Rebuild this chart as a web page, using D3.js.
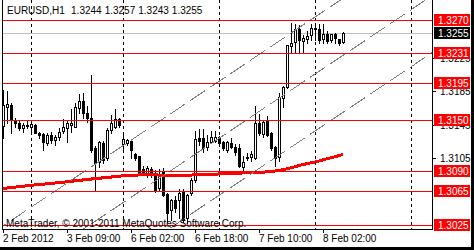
<!DOCTYPE html>
<html>
<head>
<meta charset="utf-8">
<script src="https://cdn.jsdelivr.net/npm/d3@7"></script>
<style>
	body { margin: 0; background: #fff; }
	svg { display: block; font-family: "Liberation Sans", Arial, sans-serif; font-size: 10px; }
</style>
</head>
<body>
<div id="chart"></div>
<script>

// EURUSD H1 bars, 2 Feb 2012 17:00 .. 8 Feb 2012 07:00 (bar index 0..85)
var opens = [1.3143,1.3166,1.3168,1.3150,1.3147,1.3141,1.3145,1.3142,1.3145,1.3135,
	1.3134,1.3123,1.3133,1.3127,1.3130,1.3137,1.3141,1.3145,1.3142,1.3165,
	1.3173,1.3159,1.3153,1.3117,1.3100,1.3123,1.3105,1.3139,1.3142,1.3152,
	1.3122,1.3123,1.3125,1.3110,1.3107,1.3092,1.3087,1.3092,1.3087,1.3069,
	1.3089,1.3062,1.3043,1.3055,1.3055,1.3064,1.3033,1.3063,1.3079,1.3129,
	1.3129,1.3118,1.3124,1.3125,1.3130,1.3124,1.3115,1.3123,1.3118,1.3117,
	1.3094,1.3105,1.3106,1.3105,1.3147,1.3134,1.3150,1.3135,1.3118,1.3106,
	1.3177,1.3190,1.3239,1.3244,1.3259,1.3245,1.3247,1.3252,1.3261,1.3259,
	1.3247,1.3253,1.3246,1.3253,1.3247,1.3244];
var highs = [1.3188,1.3186,1.3172,1.3154,1.3150,1.3148,1.3150,1.3150,1.3147,1.3137,
	1.3136,1.3136,1.3137,1.3134,1.3142,1.3153,1.3150,1.3165,1.3172,1.3183,
	1.3184,1.3168,1.3206,1.3121,1.3127,1.3127,1.3142,1.3158,1.3165,1.3154,
	1.3135,1.3129,1.3129,1.3112,1.3109,1.3097,1.3097,1.3095,1.3092,1.3093,
	1.3094,1.3064,1.3057,1.3061,1.3069,1.3069,1.3063,1.3082,1.3139,1.3141,
	1.3141,1.3134,1.3139,1.3139,1.3133,1.3127,1.3127,1.3130,1.3123,1.3123,
	1.3109,1.3112,1.3115,1.3168,1.3159,1.3150,1.3156,1.3137,1.3121,1.3184,
	1.3192,1.3242,1.3268,1.3267,1.3265,1.3253,1.3258,1.3267,1.3268,1.3267,
	1.3267,1.3258,1.3255,1.3256,1.3249,1.3257];
var lows = [1.3129,1.3147,1.3135,1.3142,1.3139,1.3136,1.3141,1.3136,1.3135,1.3129,
	1.3115,1.3121,1.3123,1.3121,1.3127,1.3135,1.3124,1.3136,1.3142,1.3159,
	1.3153,1.3148,1.3112,1.3065,1.3094,1.3099,1.3103,1.3135,1.3141,1.3142,
	1.3112,1.3121,1.3105,1.3103,1.3085,1.3085,1.3082,1.3082,1.3064,1.3067,
	1.3059,1.3028,1.3031,1.3040,1.3033,1.3028,1.3027,1.3061,1.3076,1.3121,
	1.3112,1.3115,1.3123,1.3124,1.3121,1.3115,1.3112,1.3117,1.3109,1.3094,
	1.3091,1.3103,1.3101,1.3104,1.3133,1.3130,1.3131,1.3115,1.3095,1.3101,
	1.3166,1.3189,1.3232,1.3232,1.3232,1.3232,1.3243,1.3246,1.3246,1.3243,
	1.3243,1.3243,1.3244,1.3243,1.3240,1.3243];
var closes = [1.3168,1.3170,1.3150,1.3147,1.3141,1.3145,1.3143,1.3146,1.3135,1.3133,
	1.3124,1.3133,1.3127,1.3130,1.3136,1.3142,1.3147,1.3147,1.3166,1.3173,
	1.3159,1.3153,1.3115,1.3099,1.3124,1.3103,1.3139,1.3147,1.3152,1.3145,
	1.3128,1.3127,1.3115,1.3105,1.3087,1.3088,1.3093,1.3085,1.3065,1.3085,
	1.3061,1.3039,1.3055,1.3045,1.3063,1.3031,1.3061,1.3079,1.3128,1.3125,
	1.3117,1.3124,1.3130,1.3130,1.3123,1.3117,1.3124,1.3118,1.3112,1.3095,
	1.3100,1.3106,1.3110,1.3147,1.3135,1.3148,1.3133,1.3117,1.3105,1.3178,
	1.3190,1.3240,1.3243,1.3259,1.3246,1.3249,1.3251,1.3261,1.3259,1.3246,
	1.3253,1.3245,1.3253,1.3249,1.3243,1.3255];

// moving average, read at some bars
var maBars   = [0, 7, 14, 22, 27, 31, 37, 41, 47, 52, 58, 64, 67, 70, 73, 75, 78, 80, 83, 85];
var maValues = [1.30685,1.30723,1.30755,1.30798,1.30822,1.30842,1.30852,1.30840,1.30846,1.30855,
	1.30867,1.30879,1.30886,1.30910,1.30946,1.30972,1.31002,1.31028,1.31066,1.31094];

// horizontal lines and current bid
var levels = [1.3270, 1.3231, 1.3195, 1.3150, 1.3090, 1.3065, 1.3025];
var bid = 1.3255;

// equidistant channel: base line anchors + parallel offsets
var channelBars = [0, 80];
var channelPrices = [1.30236, 1.32803];
var channelOffsets = [0, -0.00683, -0.01366];

// axes
var priceTicks = [1.3225, 1.3185, 1.3145, 1.3105];
var timeLabelBars = [0, 16, 32, 48, 64, 80];
var timeLabels = ["2 Feb 2012", "3 Feb 09:00", "6 Feb 02:00", "6 Feb 18:00", "7 Feb 10:00", "8 Feb 02:00"];
var separatorBars = [7, 30, 54, 78, 102];

var W = 474, H = 250;
var plotL = 2, plotR = 432, plotB = 229;

var x = d3.scaleLinear().domain([0, 107]).range([3, 431]);
var y = d3.scaleLinear().domain([1.3025, 1.3270]).range([224.8, 20.3]);

function cx(b) { return Math.round(x(b)) + 0.5; }
function cy(p) { return Math.round(y(p)) + 0.5; }

var svg = d3.select("#chart").append("svg")
	.attr("width", W).attr("height", H)
	.attr("shape-rendering", "crispEdges");

svg.append("defs").append("clipPath").attr("id", "plotclip")
	.append("rect").attr("x", plotL + 1).attr("y", 0)
	.attr("width", plotR - plotL - 1).attr("height", plotB);

var plot = svg.append("g").attr("clip-path", "url(#plotclip)");

// period separators
plot.selectAll("line.sep").data(separatorBars).enter().append("line")
	.attr("class", "sep")
	.attr("x1", cx).attr("x2", cx)
	.attr("y1", 0).attr("y2", plotB)
	.attr("stroke", "#000").attr("stroke-dasharray", "3,3");

// bid line
plot.append("line")
	.attr("x1", plotL).attr("x2", plotR)
	.attr("y1", cy(bid)).attr("y2", cy(bid))
	.attr("stroke", "#c0c0c0");

// candles
var bars = d3.range(opens.length);
plot.selectAll("line.wick").data(bars).enter().append("line")
	.attr("class", "wick")
	.attr("x1", cx).attr("x2", cx)
	.attr("y1", function(i) { return cy(highs[i]); })
	.attr("y2", function(i) { return cy(lows[i]); })
	.attr("stroke", "#000");

plot.selectAll("path.body").data(bars).enter().append("path")
	.attr("class", "body")
	.attr("d", function(i) {
		var top = cy(Math.max(opens[i], closes[i]));
		var bot = cy(Math.min(opens[i], closes[i]));
		var x0 = cx(i) - 1;
		return "M" + x0 + "," + top + "h2V" + bot + "h-2Z";
	})
	.attr("fill", function(i) { return closes[i] >= opens[i] ? "#fff" : "#000"; })
	.attr("stroke", "#000");

// moving average
plot.append("path")
	.datum(maBars)
	.attr("d", d3.line()
		.x(function(b) { return x(b); })
		.y(function(b, k) { return y(maValues[k]); }))
	.attr("fill", "none")
	.attr("stroke", "#ff0000")
	.attr("stroke-width", 3);

// channel lines
var slope = (channelPrices[1] - channelPrices[0]) / (channelBars[1] - channelBars[0]);
function chan(b, off) { return channelPrices[0] + slope * (b - channelBars[0]) + off; }
plot.selectAll("line.chan").data(channelOffsets).enter().append("line")
	.attr("class", "chan")
	.attr("x1", x(-3)).attr("y1", function(o) { return y(chan(-3, o)); })
	.attr("x2", x(110)).attr("y2", function(o) { return y(chan(110, o)); })
	.attr("stroke", "#808080").attr("stroke-dasharray", "18,6");

// horizontal levels
plot.selectAll("line.level").data(levels).enter().append("line")
	.attr("class", "level")
	.attr("x1", plotL).attr("x2", plotR)
	.attr("y1", cy).attr("y2", cy)
	.attr("stroke", "#ff0000");

// header and copyright
var header = svg.append("text").attr("x", 7).attr("y", 14).attr("fill", "#000");
var headTokens = ["EURUSD,H1", opens[85].toFixed(4), highs[85].toFixed(4), lows[85].toFixed(4), closes[85].toFixed(4)];
header.selectAll("tspan").data(headTokens).enter().append("tspan")
	.attr("dx", function(d, k) { return k == 0 ? 0 : (k == 1 ? 7 : 3); })
	.text(function(d) { return d; });

svg.append("text").attr("x", 6).attr("y", 227).attr("fill", "#000")
	.text("MetaTrader, \u00a9 2001-2011 MetaQuotes Software Corp.");

// frame
svg.append("path")
	.attr("d", "M" + (plotL + 0.5) + ",0V" + (plotB + 0.5) + "H" + (plotR + 0.5) + "V0")
	.attr("fill", "none").attr("stroke", "#000");

// time axis
svg.selectAll("line.xt").data(timeLabelBars).enter().append("line")
	.attr("class", "xt")
	.attr("x1", cx).attr("x2", cx)
	.attr("y1", plotB).attr("y2", plotB + 4)
	.attr("stroke", "#000");
svg.selectAll("text.xl").data(timeLabelBars).enter().append("text")
	.attr("class", "xl")
	.attr("x", function(b) { return Math.round(x(b)); })
	.attr("y", 242)
	.text(function(b, k) { return timeLabels[k]; });

// price axis
svg.selectAll("line.yt").data(priceTicks).enter().append("line")
	.attr("class", "yt")
	.attr("x1", plotR + 1).attr("x2", plotR + 4)
	.attr("y1", cy).attr("y2", cy)
	.attr("stroke", "#000");
svg.selectAll("text.yl").data(priceTicks).enter().append("text")
	.attr("class", "yl")
	.attr("x", 440)
	.attr("y", function(p) { return Math.round(y(p)) + 4; })
	.text(function(p) { return p.toFixed(4); });

// level labels
function priceLabel(p, bg) {
	var yy = Math.round(y(p));
	svg.append("rect").attr("x", 434).attr("y", yy - 6)
		.attr("width", 36).attr("height", 12).attr("fill", bg);
	svg.append("text").attr("x", 438).attr("y", yy + 4)
		.attr("fill", "#fff").text(p.toFixed(4));
}
levels.forEach(function(p) { priceLabel(p, "#ff0000"); });
priceLabel(bid, "#000");

// window edge
svg.append("rect").attr("x", 471).attr("y", 0).attr("width", 3).attr("height", H).attr("fill", "#000");
svg.append("rect").attr("x", 0).attr("y", 247).attr("width", W).attr("height", 3).attr("fill", "#000");

</script>
</body>
</html>
